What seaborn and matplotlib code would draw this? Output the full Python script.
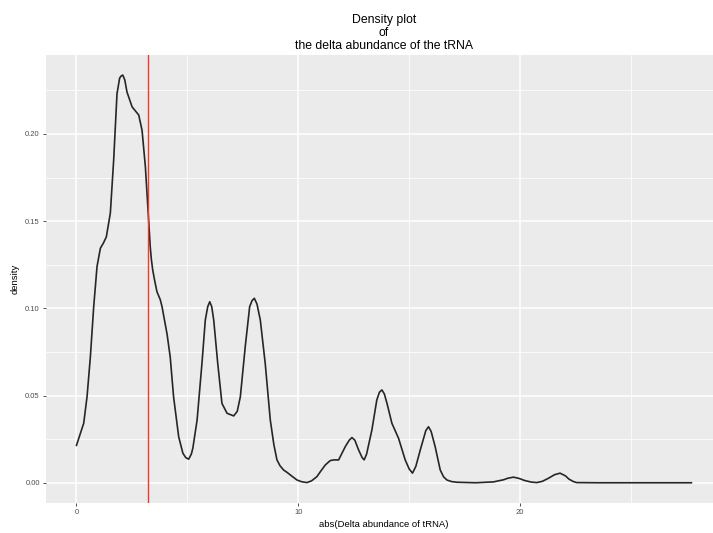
import numpy as np
import pandas as pd
import seaborn as sns
import matplotlib.pyplot as plt
from matplotlib.ticker import MultipleLocator

# density curve
x_vals = [0.00, 0.33, 0.48, 0.63, 0.78, 0.93, 1.08, 1.14, 1.22, 1.35, 1.53, 1.68,
          1.83, 1.95, 2.02, 2.09, 2.18, 2.28, 2.51, 2.81, 2.96, 3.11, 3.23, 3.33,
          3.38, 3.44, 3.52, 3.63, 3.78, 3.86, 4.09, 4.23, 4.38, 4.61, 4.80, 4.93,
          5.06, 5.18, 5.25, 5.44, 5.66, 5.81, 5.92, 6.01, 6.10, 6.19, 6.37, 6.56,
          6.79, 7.09, 7.25, 7.39, 7.61, 7.81, 7.92, 8.02, 8.14, 8.29, 8.51, 8.74,
          8.90, 9.04, 9.18, 9.34, 9.50, 9.64, 9.94, 10.15, 10.39, 10.60, 10.84,
          11.00, 11.22, 11.44, 11.60, 11.82, 12.12, 12.30, 12.42, 12.55, 12.72,
          12.88, 12.97, 13.08, 13.32, 13.54, 13.66, 13.77, 13.88, 14.00, 14.22,
          14.52, 14.82, 15.00, 15.15, 15.30, 15.50, 15.75, 15.87, 15.99, 16.17,
          16.40, 16.55, 16.70, 16.90, 17.15, 18.00, 18.80, 19.25, 19.45, 19.70,
          19.95, 20.20, 20.50, 20.75, 21.00, 21.28, 21.55, 21.80, 22.05, 22.20,
          22.40, 22.55, 23.50, 25.00, 27.73]
density = [0.0214, 0.0342, 0.0494, 0.0723, 0.101, 0.124, 0.1344, 0.1358, 0.1375,
           0.141, 0.1546, 0.185, 0.223, 0.232, 0.2332, 0.2337, 0.231, 0.224,
           0.2155, 0.2108, 0.202, 0.181, 0.156, 0.135, 0.128, 0.122, 0.1165,
           0.1096, 0.105, 0.101, 0.085, 0.072, 0.0494, 0.0265, 0.017, 0.0145,
           0.0136, 0.0165, 0.020, 0.036, 0.0686, 0.0933, 0.101, 0.1038, 0.101,
           0.0933, 0.0686, 0.0456, 0.0399, 0.0384, 0.041, 0.0494, 0.078, 0.101,
           0.1045, 0.1058, 0.1025, 0.0933, 0.0686, 0.036, 0.022, 0.0132, 0.0098,
           0.0074, 0.006, 0.0046, 0.0017, 0.0007, 0.0002, 0.0012, 0.0036, 0.0065,
           0.0103, 0.0128, 0.0132, 0.0132, 0.0208, 0.0245, 0.026, 0.0245, 0.0189,
           0.0145, 0.0132, 0.0165, 0.0304, 0.0475, 0.052, 0.0533, 0.051, 0.0456,
           0.0342, 0.0256, 0.0132, 0.008, 0.0056, 0.0095, 0.0189, 0.030, 0.0322,
           0.0295, 0.0208, 0.0074, 0.0035, 0.0017, 0.0008, 0.0004, 0.0001, 0.0006,
           0.0018, 0.0027, 0.0033, 0.0026, 0.0014, 0.0005, 0.0002, 0.0009, 0.0027,
           0.0047, 0.0056, 0.0040, 0.0022, 0.0008, 0.0002, 0.0001, 0.0001, 0.0001]
cutoff = 3.21

df = pd.DataFrame({"x": x_vals, "density": density})

sns.set_theme(style="darkgrid", rc={
    "axes.facecolor": "#EBEBEB",
    "grid.color": "white",
})
plt.rcParams["font.family"] = ["Liberation Sans", "DejaVu Sans"]

fig = plt.figure(figsize=(7.13, 5.33), dpi=100)
ax = fig.add_axes([46 / 713, 30 / 533, (722 - 46) / 713, 448 / 533])

sns.lineplot(data=df, x="x", y="density", color="#262626", linewidth=1.2,
             estimator=None, ax=ax)
for ln in ax.get_lines():
    ln.set_solid_joinstyle("round")
ax.axvline(cutoff, color="#F03A2E", linewidth=1.0)

ax.set_xlim(-1.37, 29.1)
ax.set_ylim(-0.0115, 0.2452)
ax.xaxis.set_major_locator(MultipleLocator(10))
ax.xaxis.set_minor_locator(MultipleLocator(5))
ax.yaxis.set_major_locator(MultipleLocator(0.05))
ax.yaxis.set_minor_locator(MultipleLocator(0.025))
ax.set_yticklabels([f"{v:.2f}" for v in ax.get_yticks()])
ax.grid(which="major", color="white", linewidth=1.1)
ax.grid(which="minor", color="white", linewidth=0.55)
ax.tick_params(which="major", length=2.5, width=0.6, color="#333333",
               labelsize=5.5, labelcolor="#4D4D4D", pad=2, bottom=True, left=True)
ax.tick_params(which="minor", length=0)
for s in ax.spines.values():
    s.set_visible(False)

ax.set_xlabel("abs(Delta abundance of tRNA)", fontsize=6.8, color="black", labelpad=3)
ax.set_ylabel("density", fontsize=6.8, color="black", labelpad=4)
ax.set_title("Density plot\nof\nthe delta abundance of the tRNA",
             fontsize=8.8, color="black", pad=4, linespacing=1.15)

fig.savefig("out.png", dpi=100)
